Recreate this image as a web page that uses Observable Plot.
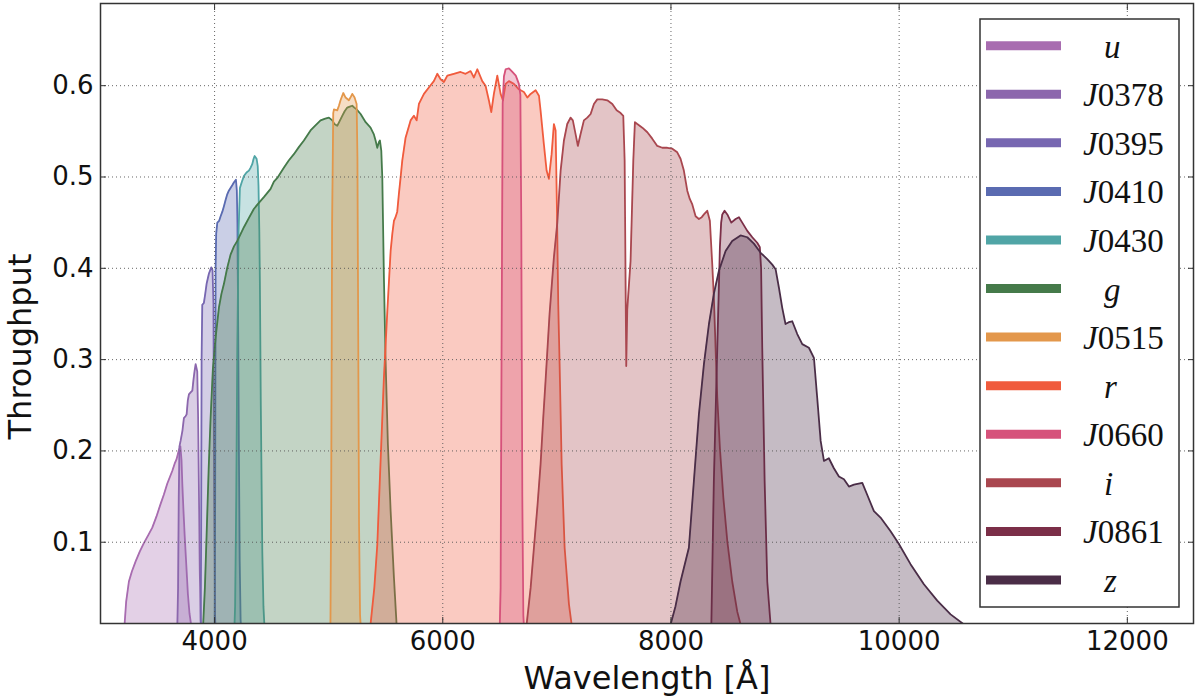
<!DOCTYPE html>
<html>
<head>
<meta charset="utf-8">
<script src="https://cdn.jsdelivr.net/npm/d3@7"></script>
<script src="https://cdn.jsdelivr.net/npm/@observablehq/plot@0.6"></script>
<style>
  html, body { margin: 0; padding: 0; background: #fff; }
  #chart { width: 1200px; height: 698px; overflow: hidden; }
</style>
</head>
<body>
<div id="chart"></div>
<script>
// ---- data: [wavelength (Å), throughput] ----
const filterNames = ["u", "J0378", "J0395", "J0410", "J0430", "g", "J0515", "r", "J0660", "i", "J0861", "z"];
const filterColors = ["#a86cb0", "#8c67ad", "#7767b1", "#5a6bb1", "#50a5a6", "#457a4a", "#e3974b", "#f05b3d", "#d6527b", "#a9474f", "#7b2f48", "#4a2d47"];

const u = [[3195,0],[3211,0.01],[3225,0.035],[3249,0.057],[3275,0.068],[3308,0.079],[3345,0.09],[3380,0.099],[3420,0.108],[3454,0.116],[3490,0.128],[3527,0.142],[3555,0.152],[3585,0.164],[3610,0.172],[3629,0.178],[3650,0.186],[3667,0.191],[3685,0.2],[3700,0.205],[3710,0.19],[3717,0.164],[3727,0.135],[3737,0.109],[3752,0.075],[3766,0.043],[3780,0.022],[3796,0.008],[3815,0]];
const J0378 = [[3672,0],[3680,0.05],[3686,0.15],[3692,0.205],[3702,0.211],[3718,0.222],[3731,0.236],[3745,0.238],[3755,0.24],[3765,0.255],[3775,0.262],[3790,0.264],[3805,0.266],[3815,0.278],[3825,0.288],[3834,0.295],[3848,0.287],[3855,0.24],[3862,0.164],[3870,0.07],[3878,0.015],[3888,0]];
const J0395 = [[3878,0],[3882,0.1],[3886,0.3],[3892,0.36],[3906,0.362],[3918,0.372],[3930,0.383],[3950,0.394],[3962,0.398],[3971,0.401],[3982,0.398],[3990,0.36],[3996,0.15],[4004,0.02],[4010,0]];
const J0410 = [[4000,0],[4005,0.15],[4009,0.4],[4014,0.438],[4024,0.45],[4040,0.452],[4053,0.457],[4068,0.462],[4082,0.468],[4097,0.475],[4111,0.481],[4125,0.485],[4140,0.488],[4155,0.491],[4169,0.494],[4187,0.497],[4195,0.485],[4200,0.45],[4207,0.33],[4213,0.2],[4220,0.08],[4228,0.015],[4236,0]];
const J0430 = [[4172,0],[4180,0.03],[4190,0.15],[4199,0.31],[4210,0.44],[4222,0.488],[4240,0.495],[4257,0.501],[4280,0.505],[4301,0.507],[4315,0.51],[4330,0.514],[4342,0.52],[4351,0.523],[4368,0.52],[4378,0.512],[4385,0.49],[4392,0.44],[4397,0.383],[4405,0.25],[4418,0.09],[4428,0.03],[4440,0]];
const g = [[3885,0],[3900,0.01],[3915,0.05],[3930,0.108],[3948,0.18],[3965,0.236],[3985,0.29],[4009,0.324],[4038,0.357],[4060,0.372],[4082,0.383],[4110,0.4],[4140,0.415],[4170,0.424],[4199,0.43],[4230,0.438],[4257,0.445],[4300,0.455],[4344,0.465],[4390,0.472],[4432,0.478],[4491,0.487],[4520,0.495],[4550,0.499],[4607,0.51],[4650,0.518],[4695,0.525],[4740,0.533],[4783,0.54],[4841,0.551],[4880,0.556],[4929,0.562],[4970,0.564],[5002,0.565],[5032,0.562],[5050,0.558],[5075,0.556],[5095,0.561],[5119,0.567],[5140,0.572],[5163,0.576],[5185,0.577],[5207,0.578],[5225,0.576],[5245,0.574],[5280,0.569],[5324,0.56],[5367,0.554],[5395,0.547],[5411,0.54],[5426,0.532],[5440,0.538],[5449,0.54],[5461,0.529],[5470,0.499],[5484,0.39],[5499,0.298],[5519,0.207],[5543,0.134],[5572,0.061],[5595,0.01],[5610,0]];
const J0515 = [[5015,0],[5022,0.15],[5030,0.45],[5040,0.57],[5046,0.574],[5075,0.573],[5090,0.578],[5104,0.584],[5128,0.592],[5148,0.587],[5177,0.584],[5195,0.588],[5207,0.591],[5227,0.587],[5245,0.58],[5252,0.52],[5258,0.35],[5266,0.12],[5275,0.02],[5285,0]];
const r = [[5355,0],[5367,0.01],[5400,0.05],[5426,0.097],[5455,0.189],[5484,0.28],[5514,0.353],[5543,0.419],[5558,0.438],[5572,0.452],[5586,0.456],[5601,0.462],[5615,0.481],[5630,0.499],[5645,0.518],[5674,0.543],[5718,0.562],[5747,0.567],[5771,0.562],[5791,0.58],[5835,0.591],[5878,0.598],[5922,0.605],[5952,0.613],[5981,0.607],[6010,0.604],[6040,0.611],[6097,0.613],[6156,0.615],[6200,0.613],[6244,0.616],[6273,0.609],[6303,0.618],[6346,0.605],[6375,0.6],[6404,0.584],[6425,0.571],[6448,0.591],[6478,0.611],[6507,0.591],[6527,0.584],[6551,0.602],[6580,0.605],[6623,0.602],[6667,0.596],[6711,0.593],[6741,0.587],[6770,0.591],[6814,0.595],[6843,0.589],[6857,0.573],[6886,0.536],[6910,0.507],[6930,0.498],[6954,0.525],[6974,0.558],[6989,0.551],[7000,0.47],[7012,0.36],[7024,0.295],[7042,0.185],[7068,0.094],[7106,0.032],[7129,0.01],[7150,0]];
const J0660 = [[6498,0],[6507,0.05],[6515,0.3],[6525,0.58],[6536,0.61],[6551,0.618],[6580,0.619],[6610,0.615],[6640,0.611],[6667,0.602],[6680,0.59],[6688,0.45],[6697,0.15],[6706,0.02],[6715,0]];
const i = [[6720,0],[6735,0.01],[6770,0.05],[6799,0.094],[6830,0.14],[6857,0.185],[6880,0.235],[6901,0.277],[6936,0.35],[6974,0.412],[7004,0.45],[7033,0.507],[7062,0.54],[7091,0.558],[7120,0.565],[7140,0.562],[7164,0.547],[7184,0.534],[7208,0.547],[7237,0.562],[7267,0.565],[7296,0.569],[7325,0.58],[7354,0.585],[7398,0.585],[7442,0.584],[7486,0.58],[7524,0.573],[7559,0.57],[7582,0.567],[7594,0.518],[7600,0.42],[7608,0.293],[7617,0.355],[7646,0.408],[7670,0.518],[7684,0.56],[7705,0.558],[7749,0.554],[7793,0.549],[7836,0.542],[7880,0.534],[7924,0.532],[7968,0.532],[8012,0.531],[8055,0.527],[8084,0.52],[8113,0.507],[8143,0.485],[8165,0.476],[8187,0.47],[8216,0.457],[8245,0.454],[8270,0.456],[8289,0.459],[8318,0.463],[8341,0.452],[8362,0.404],[8376,0.368],[8391,0.313],[8406,0.258],[8429,0.203],[8459,0.149],[8494,0.101],[8537,0.057],[8581,0.024],[8610,0.01],[8650,0]];
const J0861 = [[8340,0],[8354,0.01],[8376,0.167],[8406,0.313],[8429,0.423],[8440,0.45],[8450,0.459],[8470,0.463],[8494,0.459],[8529,0.45],[8567,0.454],[8596,0.456],[8625,0.45],[8669,0.441],[8713,0.434],[8756,0.428],[8779,0.423],[8790,0.4],[8800,0.313],[8821,0.167],[8844,0.057],[8873,0.01],[8890,0]];
const z = [[7950,0],[7997,0.01],[8040,0.03],[8084,0.057],[8157,0.094],[8201,0.167],[8245,0.24],[8289,0.295],[8333,0.339],[8376,0.372],[8420,0.397],[8479,0.419],[8537,0.43],[8610,0.436],[8669,0.434],[8727,0.427],[8786,0.417],[8844,0.41],[8888,0.404],[8917,0.399],[8946,0.379],[8975,0.357],[9004,0.339],[9033,0.341],[9063,0.342],[9107,0.328],[9151,0.317],[9209,0.313],[9253,0.302],[9282,0.258],[9312,0.211],[9341,0.189],[9384,0.192],[9428,0.181],[9472,0.172],[9516,0.169],[9560,0.161],[9604,0.163],[9677,0.165],[9720,0.152],[9779,0.134],[9837,0.127],[9925,0.112],[9998,0.098],[10100,0.076],[10217,0.054],[10334,0.036],[10451,0.021],[10568,0.01],[10700,0]];

const curves = [u, J0378, J0395, J0410, J0430, g, J0515, r, J0660, i, J0861, z];
const xTicks = [4000, 6000, 8000, 10000, 12000];
const yTicks = [0.1, 0.2, 0.3, 0.4, 0.5, 0.6];
const xLabel = "Wavelength [Å]";
const yLabel = "Throughput";

// ---- build ----
const rows = filterNames.flatMap((name, k) =>
  curves[k].map(([w, t]) => ({filter: name, wavelength: w, throughput: t})));

const FONT = "DejaVu Sans, sans-serif";
const marks = [];
filterNames.forEach((name, k) => {
  const d = rows.filter(row => row.filter === name);
  marks.push(Plot.areaY(d, {x: "wavelength", y: "throughput", fill: filterColors[k], fillOpacity: 0.32, clip: true}));
  marks.push(Plot.lineY(d, {x: "wavelength", y: "throughput", stroke: filterColors[k], strokeWidth: 1.8, clip: true}));
});

marks.push(
  Plot.gridX(xTicks, {stroke: "#555", strokeOpacity: 0.9, strokeWidth: 1, strokeDasharray: "1,3"}),
  Plot.gridY(yTicks, {stroke: "#555", strokeOpacity: 0.9, strokeWidth: 1, strokeDasharray: "1,3"}),
  Plot.axisX(xTicks, {anchor: "bottom", tickSize: 0, tickPadding: 8, fontSize: 26, fontFamily: FONT, fill: "#111", label: null, tickFormat: d => String(d)}),
  Plot.axisY(yTicks, {anchor: "left", tickSize: 0, tickPadding: 7, fontSize: 26, fontFamily: FONT, fill: "#111", label: null, tickFormat: d3.format(".1f")}),
  Plot.axisX(xTicks, {anchor: "bottom", tickSize: -6, fill: "none", label: null, stroke: "#333"}),
  Plot.axisX(xTicks, {anchor: "top", tickSize: -6, fill: "none", label: null, stroke: "#333"}),
  Plot.axisY(yTicks, {anchor: "left", tickSize: -6, fill: "none", label: null, stroke: "#333"}),
  Plot.axisY(yTicks, {anchor: "right", tickSize: -6, fill: "none", label: null, stroke: "#333"}),
  Plot.frame({stroke: "#333", strokeWidth: 1.5}),
  Plot.text([xLabel], {text: d => d, frameAnchor: "bottom", textAnchor: "middle", lineAnchor: "middle", dy: 55, fontSize: 32, fontFamily: FONT, fill: "#111"}),
  Plot.text([yLabel], {text: d => d, frameAnchor: "left", textAnchor: "middle", lineAnchor: "middle", dx: -80, dy: 33, rotate: -90, fontSize: 32, fontFamily: FONT, fill: "#111"})
);

const chart = Plot.plot({
  width: 1200,
  height: 698,
  marginLeft: 100,
  marginRight: 7,
  marginTop: 3,
  marginBottom: 75,
  x: {domain: [3000, 12580]},
  y: {domain: [0.011, 0.69]},
  style: {background: "#fff", fontFamily: FONT},
  marks
});

// ---- legend (inside the plot, upper right) ----
const svg = d3.select(chart);
const lg = svg.append("g").attr("text-anchor", "start");
lg.append("rect").attr("x", 980).attr("y", 19).attr("width", 199).attr("height", 588)
  .attr("fill", "#fff").attr("stroke", "#333").attr("stroke-width", 1.5);
filterNames.forEach((name, k) => {
  const yy = 45.7 + k * 48.57;
  lg.append("line").attr("x1", 986).attr("x2", 1061).attr("y1", yy).attr("y2", yy)
    .attr("stroke", filterColors[k]).attr("stroke-width", 9);
  const t = lg.append("text").attr("y", yy + 12).attr("text-anchor", "start")
    .attr("font-family", "Liberation Serif, DejaVu Serif, serif")
    .attr("font-size", 33).attr("fill", "#111");
  if (name.length === 1) {
    t.attr("x", 1104).append("tspan").attr("font-style", "italic").text(name);
  } else {
    t.attr("x", 1083);
    t.append("tspan").attr("font-style", "italic").text(name[0]);
    t.append("tspan").text(name.slice(1));
  }
});

document.getElementById("chart").appendChild(chart);
</script>
</body>
</html>
